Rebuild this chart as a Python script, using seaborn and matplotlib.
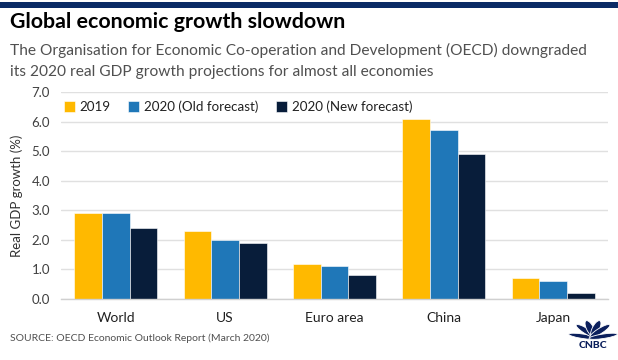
import matplotlib
matplotlib.use("Agg")
import matplotlib.pyplot as plt
import seaborn as sns
import pandas as pd
import math
from matplotlib.patches import Rectangle, Ellipse

regions = ["World", "US", "Euro area", "China", "Japan"]
series = ["2019", "2020 (Old forecast)", "2020 (New forecast)"]
v2019 = [2.9, 2.3, 1.2, 6.1, 0.7]
v_old = [2.9, 2.0, 1.1, 5.7, 0.6]
v_new = [2.4, 1.9, 0.8, 4.9, 0.2]
yticks = [0.0, 1.0, 2.0, 3.0, 4.0, 5.0, 6.0, 7.0]
colors = ["#FFB900", "#1F77B8", "#081D3A"]

df = pd.DataFrame({
    "region": regions * 3,
    "series": [series[0]] * 5 + [series[1]] * 5 + [series[2]] * 5,
    "value": v2019 + v_old + v_new,
})

sns.set_theme(style="white")
FONT = "Lato"
plt.rcParams["font.family"] = [FONT, "DejaVu Sans"]

fig = plt.figure(figsize=(6.18, 3.60), dpi=100)
fig.patch.set_facecolor("white")
ax = fig.add_axes([61 / 618, 1 - 299 / 360, 547 / 618, 207 / 360])

sns.barplot(data=df, x="region", y="value", hue="series", palette=colors,
            width=0.76, gap=0, saturation=1, ax=ax, edgecolor="white",
            linewidth=0.4, errorbar=None)

ax.set_ylim(0, 7)
ax.set_xlim(-0.5, 4.5)
ax.set_yticks(yticks)
ax.set_yticklabels([f"{t:.1f}" for t in yticks], fontsize=9.5, color="#404040")
ax.yaxis.grid(True, color="#E0E0E0", linewidth=1)
ax.set_axisbelow(True)
for s in ["top", "right", "left"]:
    ax.spines[s].set_visible(False)
ax.spines["bottom"].set_color("#D0D0D0")
ax.spines["bottom"].set_linewidth(1)
ax.tick_params(axis="y", length=0, pad=8)
ax.set_xticks(range(5))
ax.set_xticklabels(regions, fontsize=10, color="#202020")
ax.tick_params(axis="x", length=0, pad=9)
ax.set_xticks([-0.5, 0.5, 1.5, 2.5, 3.5, 4.5], minor=True)
ax.tick_params(axis="x", which="minor", length=4, color="#D0D0D0", width=1)
ax.set_xlabel("")
ax.set_ylabel("Real GDP growth (%)", fontsize=9.5, color="#303030", labelpad=6)

leg = ax.legend(loc="upper left", bbox_to_anchor=(-0.005, 0.985), ncol=3, frameon=False,
                fontsize=9.6, handlelength=0.85, handleheight=0.85, handletextpad=0.35,
                columnspacing=1.3, borderaxespad=0)
for t in leg.get_texts():
    t.set_color("#202020")

# header band
fig.patches.append(Rectangle((0, 1 - 8 / 360), 1, 6 / 360, transform=fig.transFigure,
                             facecolor="#0B2B66", edgecolor="none"))
fig.text(10 / 618, 1 - 22 / 360, "Global economic growth slowdown", fontsize=15.4,
         fontweight="bold", color="#000000", va="center", ha="left")
fig.text(10 / 618, 1 - 50 / 360,
         "The Organisation for Economic Co-operation and Development (OECD) downgraded",
         fontsize=11.2, color="#505050", va="center", ha="left")
fig.text(10 / 618, 1 - 72 / 360,
         "its 2020 real GDP growth projections for almost all economies",
         fontsize=11.2, color="#505050", va="center", ha="left")
fig.text(10 / 618, 1 - 338 / 360, "SOURCE: OECD Economic Outlook Report (March 2020)",
         fontsize=7.5, color="#505050", va="center", ha="left")

# CNBC logo (approximation)
navy = "#0B1F5C"
cx, cy = 593, 339
for ang in [165, 131, 105, 75, 49, 15]:
    r = 10.5
    ex = cx + r * math.cos(math.radians(ang))
    ey = cy - r * math.sin(math.radians(ang))
    fig.patches.append(Ellipse((ex / 618, 1 - ey / 360), 7.5 / 618, 17 / 360,
                               angle=ang - 90, transform=fig.transFigure,
                               facecolor=navy, edgecolor="white", linewidth=0.6))
fig.text(cx / 618, 1 - 345 / 360, "CNBC", fontsize=7.5, fontweight="black",
         color=navy, ha="center", va="center")

fig.savefig("out.png", dpi=100)
